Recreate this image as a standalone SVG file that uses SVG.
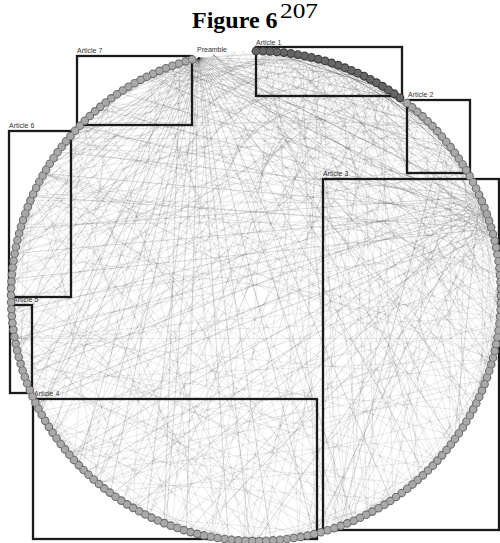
<svg xmlns="http://www.w3.org/2000/svg" width="500" height="543" viewBox="0 0 500 543">
<style>
.title{font-family:"Liberation Serif","Times New Roman",serif;font-weight:bold;font-size:24px;fill:#000}
.sup{font-family:"Liberation Serif","Times New Roman",serif;font-size:21px;fill:#000}
.lbl{font-family:"Liberation Sans",Arial,sans-serif;font-size:7px;fill:#333}
.box{fill:none;stroke:#1a1a1a;stroke-width:2.3}
.e1{stroke:#000;stroke-opacity:.12;stroke-width:.65}
.e2{stroke:#000;stroke-opacity:.2;stroke-width:.7}
.e3{stroke:#000;stroke-opacity:.35;stroke-width:.8}
.dots{fill:none;stroke-linecap:round}
</style>
<defs>
<line id="c10" x1="-21.35" y1="-244.07" x2="21.35" y2="-244.07"/>
<line id="c15" x1="-31.98" y1="-242.9" x2="31.98" y2="-242.9"/>
<line id="c20" x1="-42.54" y1="-241.28" x2="42.54" y2="-241.28"/>
<line id="c25" x1="-53.03" y1="-239.19" x2="53.03" y2="-239.19"/>
<line id="c30" x1="-63.41" y1="-236.65" x2="63.41" y2="-236.65"/>
<line id="c35" x1="-73.67" y1="-233.66" x2="73.67" y2="-233.66"/>
<line id="c40" x1="-83.79" y1="-230.22" x2="83.79" y2="-230.22"/>
<line id="c45" x1="-93.76" y1="-226.35" x2="93.76" y2="-226.35"/>
<line id="c50" x1="-103.54" y1="-222.05" x2="103.54" y2="-222.05"/>
<line id="c55" x1="-113.13" y1="-217.32" x2="113.13" y2="-217.32"/>
<line id="c60" x1="-122.5" y1="-212.18" x2="122.5" y2="-212.18"/>
<line id="c65" x1="-131.64" y1="-206.63" x2="131.64" y2="-206.63"/>
<line id="c70" x1="-140.53" y1="-200.69" x2="140.53" y2="-200.69"/>
<line id="c75" x1="-149.15" y1="-194.37" x2="149.15" y2="-194.37"/>
<line id="c80" x1="-157.48" y1="-187.68" x2="157.48" y2="-187.68"/>
<line id="c85" x1="-165.52" y1="-180.63" x2="165.52" y2="-180.63"/>
<line id="c90" x1="-173.24" y1="-173.24" x2="173.24" y2="-173.24"/>
<line id="c95" x1="-180.63" y1="-165.52" x2="180.63" y2="-165.52"/>
<line id="c100" x1="-187.68" y1="-157.48" x2="187.68" y2="-157.48"/>
<line id="c105" x1="-194.37" y1="-149.15" x2="194.37" y2="-149.15"/>
<line id="c110" x1="-200.69" y1="-140.53" x2="200.69" y2="-140.53"/>
<line id="c115" x1="-206.63" y1="-131.64" x2="206.63" y2="-131.64"/>
<line id="c120" x1="-212.18" y1="-122.5" x2="212.18" y2="-122.5"/>
<line id="c125" x1="-217.32" y1="-113.13" x2="217.32" y2="-113.13"/>
<line id="c130" x1="-222.05" y1="-103.54" x2="222.05" y2="-103.54"/>
<line id="c135" x1="-226.35" y1="-93.76" x2="226.35" y2="-93.76"/>
<line id="c140" x1="-230.22" y1="-83.79" x2="230.22" y2="-83.79"/>
<line id="c145" x1="-233.66" y1="-73.67" x2="233.66" y2="-73.67"/>
<line id="c150" x1="-236.65" y1="-63.41" x2="236.65" y2="-63.41"/>
<line id="c155" x1="-239.19" y1="-53.03" x2="239.19" y2="-53.03"/>
<line id="c160" x1="-241.28" y1="-42.54" x2="241.28" y2="-42.54"/>
<line id="c165" x1="-242.9" y1="-31.98" x2="242.9" y2="-31.98"/>
<line id="c170" x1="-244.07" y1="-21.35" x2="244.07" y2="-21.35"/>
<line id="c175" x1="-244.77" y1="-10.69" x2="244.77" y2="-10.69"/>
<line id="c180" x1="-245" y1="0" x2="245" y2="0"/>
</defs>
<rect width="500" height="543" fill="#fff"/>
<g id="title">
<text class="title" x="192" y="28">Figure 6</text>
<text class="sup" x="280" y="18" textLength="38" lengthAdjust="spacingAndGlyphs">207</text>
</g>
<g id="connectors" transform="translate(256,296)">
<g class="e2">
<use href="#c20" transform="rotate(356.5)"/><use href="#c20" transform="rotate(336.5)"/>
<use href="#c30" transform="rotate(1.5)"/>
<use href="#c40" transform="rotate(6.5)"/><use href="#c40" transform="rotate(326.5)"/>
<use href="#c50" transform="rotate(11.5)"/><use href="#c50" transform="rotate(321.5)"/>
<use href="#c60" transform="rotate(16.5)"/><use href="#c60" transform="rotate(316.5)"/>
<use href="#c70" transform="rotate(21.5)"/><use href="#c70" transform="rotate(311.5)"/>
<use href="#c80" transform="rotate(26.5)"/><use href="#c80" transform="rotate(306.5)"/>
<use href="#c90" transform="rotate(31.5)"/><use href="#c90" transform="rotate(301.5)"/>
<use href="#c100" transform="rotate(36.5)"/><use href="#c100" transform="rotate(296.5)"/>
<use href="#c110" transform="rotate(41.5)"/><use href="#c110" transform="rotate(291.5)"/>
<use href="#c120" transform="rotate(46.5)"/><use href="#c120" transform="rotate(286.5)"/>
<use href="#c130" transform="rotate(51.5)"/><use href="#c130" transform="rotate(281.5)"/>
<use href="#c140" transform="rotate(56.5)"/><use href="#c140" transform="rotate(276.5)"/>
<use href="#c150" transform="rotate(61.5)"/><use href="#c150" transform="rotate(271.5)"/>
<use href="#c160" transform="rotate(66.5)"/><use href="#c160" transform="rotate(266.5)"/>
<use href="#c170" transform="rotate(71.5)"/><use href="#c170" transform="rotate(261.5)"/>
<use href="#c180" transform="rotate(76.5)"/>
<use href="#c25" transform="rotate(334)"/><use href="#c45" transform="rotate(324)"/><use href="#c65" transform="rotate(314)"/><use href="#c85" transform="rotate(304)"/><use href="#c105" transform="rotate(294)"/><use href="#c125" transform="rotate(284)"/><use href="#c145" transform="rotate(274)"/><use href="#c165" transform="rotate(264)"/>
<use href="#c60" transform="rotate(312)"/><use href="#c100" transform="rotate(292)"/><use href="#c140" transform="rotate(272)"/><use href="#c90" transform="rotate(27)"/><use href="#c130" transform="rotate(47)"/>
<use href="#c50" transform="rotate(41)"/><use href="#c80" transform="rotate(26)"/><use href="#c100" transform="rotate(16)"/><use href="#c120" transform="rotate(6)"/><use href="#c140" transform="rotate(356)"/><use href="#c160" transform="rotate(346)"/><use href="#c175" transform="rotate(338.5)"/><use href="#c60" transform="rotate(96)"/><use href="#c100" transform="rotate(116)"/><use href="#c130" transform="rotate(131)"/><use href="#c150" transform="rotate(141)"/>
<use href="#c90" transform="rotate(25)"/><use href="#c110" transform="rotate(15)"/><use href="#c130" transform="rotate(5)"/><use href="#c150" transform="rotate(355)"/><use href="#c170" transform="rotate(345)"/><use href="#c110" transform="rotate(125)"/><use href="#c140" transform="rotate(140)"/><use href="#c160" transform="rotate(150)"/><use href="#c175" transform="rotate(157.5)"/>
<use href="#c70" transform="rotate(39)"/><use href="#c100" transform="rotate(24)"/><use href="#c120" transform="rotate(14)"/><use href="#c140" transform="rotate(4)"/><use href="#c160" transform="rotate(354)"/><use href="#c120" transform="rotate(134)"/><use href="#c150" transform="rotate(149)"/><use href="#c170" transform="rotate(159)"/>
</g>
<g class="e1">
<use href="#c40" transform="rotate(23)"/><use href="#c70" transform="rotate(38)"/><use href="#c100" transform="rotate(53)"/><use href="#c130" transform="rotate(68)"/><use href="#c160" transform="rotate(83)"/><use href="#c60" transform="rotate(333)"/><use href="#c90" transform="rotate(318)"/><use href="#c120" transform="rotate(303)"/><use href="#c150" transform="rotate(288)"/><use href="#c180" transform="rotate(273)"/>
<use href="#c30" transform="rotate(23)"/><use href="#c60" transform="rotate(38)"/><use href="#c90" transform="rotate(53)"/><use href="#c120" transform="rotate(68)"/><use href="#c150" transform="rotate(83)"/><use href="#c50" transform="rotate(343)"/><use href="#c80" transform="rotate(328)"/><use href="#c110" transform="rotate(313)"/><use href="#c140" transform="rotate(298)"/><use href="#c170" transform="rotate(283)"/>
<use href="#c20" transform="rotate(23)"/><use href="#c50" transform="rotate(38)"/><use href="#c80" transform="rotate(53)"/><use href="#c110" transform="rotate(68)"/><use href="#c140" transform="rotate(83)"/><use href="#c170" transform="rotate(98)"/><use href="#c40" transform="rotate(353)"/><use href="#c70" transform="rotate(338)"/><use href="#c100" transform="rotate(323)"/><use href="#c130" transform="rotate(308)"/><use href="#c160" transform="rotate(293)"/>
<use href="#c30" transform="rotate(33)"/><use href="#c60" transform="rotate(48)"/><use href="#c90" transform="rotate(63)"/><use href="#c120" transform="rotate(78)"/><use href="#c160" transform="rotate(98)"/><use href="#c60" transform="rotate(348)"/><use href="#c90" transform="rotate(333)"/><use href="#c120" transform="rotate(318)"/><use href="#c150" transform="rotate(303)"/><use href="#c175" transform="rotate(290.5)"/>
<use href="#c20" transform="rotate(33)"/><use href="#c70" transform="rotate(58)"/><use href="#c100" transform="rotate(73)"/><use href="#c130" transform="rotate(88)"/><use href="#c50" transform="rotate(358)"/><use href="#c80" transform="rotate(343)"/><use href="#c110" transform="rotate(328)"/><use href="#c140" transform="rotate(313)"/><use href="#c170" transform="rotate(298)"/>
<use href="#c10" transform="rotate(33)"/><use href="#c40" transform="rotate(48)"/><use href="#c80" transform="rotate(68)"/><use href="#c110" transform="rotate(83)"/><use href="#c140" transform="rotate(98)"/><use href="#c70" transform="rotate(353)"/><use href="#c100" transform="rotate(338)"/><use href="#c130" transform="rotate(323)"/><use href="#c160" transform="rotate(308)"/>
<use href="#c30" transform="rotate(48)"/><use href="#c60" transform="rotate(63)"/><use href="#c90" transform="rotate(78)"/><use href="#c120" transform="rotate(93)"/><use href="#c150" transform="rotate(108)"/><use href="#c80" transform="rotate(353)"/><use href="#c110" transform="rotate(338)"/><use href="#c140" transform="rotate(323)"/><use href="#c170" transform="rotate(308)"/>
<use href="#c60" transform="rotate(12)"/><use href="#c90" transform="rotate(357)"/><use href="#c120" transform="rotate(342)"/><use href="#c150" transform="rotate(327)"/><use href="#c175" transform="rotate(314.5)"/><use href="#c40" transform="rotate(62)"/><use href="#c80" transform="rotate(82)"/><use href="#c120" transform="rotate(102)"/>
<use href="#c70" transform="rotate(15)"/><use href="#c100" transform="rotate(0)"/><use href="#c130" transform="rotate(345)"/><use href="#c160" transform="rotate(330)"/><use href="#c30" transform="rotate(65)"/><use href="#c70" transform="rotate(85)"/><use href="#c110" transform="rotate(105)"/>
<use href="#c80" transform="rotate(17)"/><use href="#c110" transform="rotate(2)"/><use href="#c140" transform="rotate(347)"/><use href="#c170" transform="rotate(332)"/><use href="#c50" transform="rotate(82)"/><use href="#c100" transform="rotate(107)"/>
<use href="#c90" transform="rotate(35)"/><use href="#c130" transform="rotate(15)"/><use href="#c170" transform="rotate(355)"/><use href="#c100" transform="rotate(130)"/><use href="#c140" transform="rotate(150)"/><use href="#c175" transform="rotate(167.5)"/>
<use href="#c100" transform="rotate(40)"/><use href="#c150" transform="rotate(15)"/><use href="#c100" transform="rotate(140)"/><use href="#c140" transform="rotate(160)"/><use href="#c170" transform="rotate(175)"/>
<use href="#c110" transform="rotate(45)"/><use href="#c160" transform="rotate(20)"/><use href="#c130" transform="rotate(165)"/><use href="#c160" transform="rotate(180)"/>
<use href="#c120" transform="rotate(50)"/><use href="#c170" transform="rotate(25)"/><use href="#c120" transform="rotate(170)"/><use href="#c150" transform="rotate(185)"/>
<use href="#c130" transform="rotate(60)"/><use href="#c100" transform="rotate(175)"/><use href="#c140" transform="rotate(195)"/><use href="#c170" transform="rotate(210)"/>
<use href="#c140" transform="rotate(70)"/><use href="#c90" transform="rotate(185)"/><use href="#c130" transform="rotate(205)"/><use href="#c160" transform="rotate(220)"/>
<use href="#c90" transform="rotate(115)"/><use href="#c110" transform="rotate(105)"/><use href="#c130" transform="rotate(95)"/><use href="#c150" transform="rotate(85)"/><use href="#c170" transform="rotate(75)"/><use href="#c80" transform="rotate(200)"/><use href="#c120" transform="rotate(220)"/><use href="#c150" transform="rotate(235)"/><use href="#c180" transform="rotate(250)"/>
<use href="#c60" transform="rotate(120)"/><use href="#c80" transform="rotate(110)"/><use href="#c100" transform="rotate(200)"/><use href="#c140" transform="rotate(220)"/>
<use href="#c60" transform="rotate(210)"/><use href="#c100" transform="rotate(230)"/><use href="#c130" transform="rotate(245)"/><use href="#c160" transform="rotate(260)"/><use href="#c140" transform="rotate(110)"/>
<use href="#c70" transform="rotate(235)"/><use href="#c110" transform="rotate(255)"/><use href="#c150" transform="rotate(275)"/><use href="#c120" transform="rotate(140)"/><use href="#c150" transform="rotate(125)"/><use href="#c170" transform="rotate(115)"/>
<use href="#c80" transform="rotate(260)"/><use href="#c130" transform="rotate(285)"/><use href="#c110" transform="rotate(165)"/><use href="#c120" transform="rotate(160)"/><use href="#c170" transform="rotate(135)"/>
<use href="#c90" transform="rotate(280)"/><use href="#c120" transform="rotate(295)"/><use href="#c130" transform="rotate(170)"/><use href="#c160" transform="rotate(155)"/><use href="#c175" transform="rotate(147.5)"/>
<use href="#c60" transform="rotate(285)"/><use href="#c100" transform="rotate(305)"/><use href="#c130" transform="rotate(320)"/><use href="#c160" transform="rotate(335)"/><use href="#c90" transform="rotate(210)"/><use href="#c120" transform="rotate(195)"/>
<use href="#c50" transform="rotate(300)"/><use href="#c90" transform="rotate(320)"/><use href="#c120" transform="rotate(335)"/><use href="#c150" transform="rotate(350)"/><use href="#c175" transform="rotate(7.5)"/><use href="#c100" transform="rotate(225)"/>
<use href="#c60" transform="rotate(325)"/><use href="#c100" transform="rotate(345)"/><use href="#c140" transform="rotate(5)"/><use href="#c170" transform="rotate(20)"/><use href="#c110" transform="rotate(240)"/><use href="#c140" transform="rotate(225)"/>
<use href="#c50" transform="rotate(340)"/><use href="#c90" transform="rotate(0)"/><use href="#c130" transform="rotate(20)"/><use href="#c160" transform="rotate(35)"/><use href="#c120" transform="rotate(255)"/><use href="#c150" transform="rotate(240)"/>
<use href="#c40" transform="rotate(355)"/><use href="#c80" transform="rotate(15)"/><use href="#c120" transform="rotate(35)"/><use href="#c150" transform="rotate(50)"/><use href="#c110" transform="rotate(280)"/><use href="#c140" transform="rotate(265)"/><use href="#c170" transform="rotate(250)"/>
<use href="#c20" transform="rotate(70)"/><use href="#c20" transform="rotate(90)"/><use href="#c20" transform="rotate(110)"/><use href="#c20" transform="rotate(130)"/><use href="#c20" transform="rotate(150)"/><use href="#c20" transform="rotate(170)"/><use href="#c20" transform="rotate(190)"/><use href="#c20" transform="rotate(210)"/><use href="#c20" transform="rotate(230)"/><use href="#c20" transform="rotate(250)"/><use href="#c20" transform="rotate(270)"/><use href="#c20" transform="rotate(290)"/><use href="#c20" transform="rotate(310)"/><use href="#c20" transform="rotate(330)"/>
<use href="#c30" transform="rotate(80)"/><use href="#c30" transform="rotate(100)"/><use href="#c30" transform="rotate(120)"/><use href="#c30" transform="rotate(140)"/><use href="#c30" transform="rotate(160)"/><use href="#c30" transform="rotate(200)"/><use href="#c30" transform="rotate(240)"/><use href="#c30" transform="rotate(280)"/><use href="#c30" transform="rotate(320)"/>
<use href="#c40" transform="rotate(75)"/><use href="#c40" transform="rotate(95)"/><use href="#c40" transform="rotate(115)"/><use href="#c40" transform="rotate(135)"/><use href="#c40" transform="rotate(155)"/><use href="#c40" transform="rotate(185)"/><use href="#c40" transform="rotate(215)"/><use href="#c40" transform="rotate(245)"/><use href="#c40" transform="rotate(275)"/><use href="#c40" transform="rotate(305)"/>
</g>
<g class="e1">
<use href="#c45" transform="rotate(27.5)"/><use href="#c75" transform="rotate(42.5)"/><use href="#c105" transform="rotate(57.5)"/><use href="#c135" transform="rotate(72.5)"/><use href="#c165" transform="rotate(87.5)"/><use href="#c55" transform="rotate(337.5)"/><use href="#c85" transform="rotate(322.5)"/><use href="#c115" transform="rotate(307.5)"/><use href="#c145" transform="rotate(292.5)"/><use href="#c175" transform="rotate(277.5)"/>
<use href="#c35" transform="rotate(28.5)"/><use href="#c65" transform="rotate(43.5)"/><use href="#c95" transform="rotate(58.5)"/><use href="#c125" transform="rotate(73.5)"/><use href="#c155" transform="rotate(88.5)"/><use href="#c45" transform="rotate(348.5)"/><use href="#c75" transform="rotate(333.5)"/><use href="#c105" transform="rotate(318.5)"/><use href="#c135" transform="rotate(303.5)"/><use href="#c165" transform="rotate(288.5)"/>
<use href="#c25" transform="rotate(28.5)"/><use href="#c55" transform="rotate(43.5)"/><use href="#c85" transform="rotate(58.5)"/><use href="#c115" transform="rotate(73.5)"/><use href="#c145" transform="rotate(88.5)"/><use href="#c175" transform="rotate(103.5)"/><use href="#c65" transform="rotate(343.5)"/><use href="#c95" transform="rotate(328.5)"/><use href="#c125" transform="rotate(313.5)"/><use href="#c155" transform="rotate(298.5)"/>
<use href="#c15" transform="rotate(28.5)"/><use href="#c45" transform="rotate(43.5)"/><use href="#c75" transform="rotate(58.5)"/><use href="#c105" transform="rotate(73.5)"/><use href="#c135" transform="rotate(88.5)"/><use href="#c35" transform="rotate(3.5)"/><use href="#c85" transform="rotate(338.5)"/><use href="#c115" transform="rotate(323.5)"/><use href="#c145" transform="rotate(308.5)"/><use href="#c175" transform="rotate(293.5)"/>
<use href="#c35" transform="rotate(43.5)"/><use href="#c65" transform="rotate(58.5)"/><use href="#c95" transform="rotate(73.5)"/><use href="#c125" transform="rotate(88.5)"/><use href="#c155" transform="rotate(103.5)"/><use href="#c55" transform="rotate(358.5)"/><use href="#c105" transform="rotate(333.5)"/><use href="#c135" transform="rotate(318.5)"/><use href="#c165" transform="rotate(303.5)"/>
<use href="#c25" transform="rotate(43.5)"/><use href="#c55" transform="rotate(58.5)"/><use href="#c85" transform="rotate(73.5)"/><use href="#c115" transform="rotate(88.5)"/><use href="#c145" transform="rotate(103.5)"/><use href="#c175" transform="rotate(118.5)"/><use href="#c75" transform="rotate(353.5)"/><use href="#c125" transform="rotate(328.5)"/><use href="#c155" transform="rotate(313.5)"/>
<use href="#c65" transform="rotate(35.5)"/><use href="#c95" transform="rotate(20.5)"/><use href="#c115" transform="rotate(10.5)"/><use href="#c135" transform="rotate(0.5)"/><use href="#c155" transform="rotate(350.5)"/><use href="#c175" transform="rotate(340.5)"/><use href="#c45" transform="rotate(90.5)"/><use href="#c85" transform="rotate(110.5)"/><use href="#c125" transform="rotate(130.5)"/><use href="#c165" transform="rotate(150.5)"/>
<use href="#c75" transform="rotate(34.5)"/><use href="#c105" transform="rotate(19.5)"/><use href="#c125" transform="rotate(9.5)"/><use href="#c145" transform="rotate(359.5)"/><use href="#c165" transform="rotate(349.5)"/><use href="#c95" transform="rotate(119.5)"/><use href="#c135" transform="rotate(139.5)"/><use href="#c175" transform="rotate(159.5)"/>
<use href="#c85" transform="rotate(34.5)"/><use href="#c115" transform="rotate(19.5)"/><use href="#c145" transform="rotate(4.5)"/><use href="#c175" transform="rotate(349.5)"/><use href="#c105" transform="rotate(129.5)"/><use href="#c145" transform="rotate(149.5)"/>
<use href="#c95" transform="rotate(37.5)"/><use href="#c135" transform="rotate(17.5)"/><use href="#c115" transform="rotate(142.5)"/><use href="#c155" transform="rotate(162.5)"/><use href="#c35" transform="rotate(102.5)"/>
<use href="#c105" transform="rotate(42.5)"/><use href="#c155" transform="rotate(17.5)"/><use href="#c125" transform="rotate(157.5)"/><use href="#c165" transform="rotate(177.5)"/><use href="#c25" transform="rotate(107.5)"/>
<use href="#c115" transform="rotate(47.5)"/><use href="#c165" transform="rotate(22.5)"/><use href="#c105" transform="rotate(157.5)"/><use href="#c145" transform="rotate(177.5)"/>
<use href="#c125" transform="rotate(55.5)"/><use href="#c175" transform="rotate(30.5)"/><use href="#c95" transform="rotate(165.5)"/><use href="#c135" transform="rotate(185.5)"/>
<use href="#c135" transform="rotate(64.5)"/><use href="#c85" transform="rotate(174.5)"/><use href="#c125" transform="rotate(194.5)"/><use href="#c165" transform="rotate(214.5)"/>
<use href="#c145" transform="rotate(73.5)"/><use href="#c95" transform="rotate(98.5)"/><use href="#c75" transform="rotate(183.5)"/><use href="#c115" transform="rotate(203.5)"/><use href="#c155" transform="rotate(223.5)"/>
<use href="#c85" transform="rotate(115.5)"/><use href="#c105" transform="rotate(105.5)"/><use href="#c125" transform="rotate(95.5)"/><use href="#c145" transform="rotate(85.5)"/><use href="#c165" transform="rotate(75.5)"/><use href="#c95" transform="rotate(205.5)"/><use href="#c135" transform="rotate(225.5)"/><use href="#c175" transform="rotate(245.5)"/>
<use href="#c65" transform="rotate(12.5)"/><use href="#c95" transform="rotate(357.5)"/><use href="#c125" transform="rotate(342.5)"/><use href="#c155" transform="rotate(327.5)"/><use href="#c55" transform="rotate(72.5)"/><use href="#c95" transform="rotate(92.5)"/>
<use href="#c75" transform="rotate(15.5)"/><use href="#c105" transform="rotate(0.5)"/><use href="#c145" transform="rotate(340.5)"/><use href="#c35" transform="rotate(70.5)"/><use href="#c75" transform="rotate(90.5)"/><use href="#c115" transform="rotate(110.5)"/>
<use href="#c85" transform="rotate(16.5)"/><use href="#c125" transform="rotate(356.5)"/><use href="#c165" transform="rotate(336.5)"/><use href="#c65" transform="rotate(91.5)"/><use href="#c105" transform="rotate(111.5)"/>
<use href="#c65" transform="rotate(202.5)"/><use href="#c105" transform="rotate(222.5)"/><use href="#c145" transform="rotate(242.5)"/><use href="#c115" transform="rotate(112.5)"/><use href="#c155" transform="rotate(92.5)"/>
<use href="#c75" transform="rotate(227.5)"/><use href="#c115" transform="rotate(247.5)"/><use href="#c155" transform="rotate(267.5)"/><use href="#c125" transform="rotate(127.5)"/><use href="#c165" transform="rotate(107.5)"/>
<use href="#c85" transform="rotate(252.5)"/><use href="#c125" transform="rotate(272.5)"/><use href="#c165" transform="rotate(292.5)"/><use href="#c135" transform="rotate(142.5)"/><use href="#c175" transform="rotate(122.5)"/>
<use href="#c95" transform="rotate(275.5)"/><use href="#c135" transform="rotate(295.5)"/><use href="#c115" transform="rotate(170.5)"/><use href="#c155" transform="rotate(150.5)"/>
<use href="#c75" transform="rotate(279.5)"/><use href="#c115" transform="rotate(299.5)"/><use href="#c155" transform="rotate(319.5)"/><use href="#c145" transform="rotate(169.5)"/>
<use href="#c65" transform="rotate(290.5)"/><use href="#c105" transform="rotate(310.5)"/><use href="#c145" transform="rotate(330.5)"/><use href="#c95" transform="rotate(210.5)"/>
<use href="#c85" transform="rotate(307.5)"/><use href="#c125" transform="rotate(327.5)"/><use href="#c165" transform="rotate(347.5)"/><use href="#c115" transform="rotate(207.5)"/>
<use href="#c55" transform="rotate(312.5)"/><use href="#c95" transform="rotate(332.5)"/><use href="#c135" transform="rotate(352.5)"/><use href="#c175" transform="rotate(12.5)"/><use href="#c105" transform="rotate(232.5)"/>
<use href="#c65" transform="rotate(332.5)"/><use href="#c105" transform="rotate(352.5)"/><use href="#c145" transform="rotate(12.5)"/><use href="#c125" transform="rotate(237.5)"/>
<use href="#c45" transform="rotate(344.5)"/><use href="#c85" transform="rotate(4.5)"/><use href="#c125" transform="rotate(24.5)"/><use href="#c165" transform="rotate(44.5)"/><use href="#c135" transform="rotate(254.5)"/>
<use href="#c35" transform="rotate(355.5)"/><use href="#c75" transform="rotate(15.5)"/><use href="#c115" transform="rotate(35.5)"/><use href="#c155" transform="rotate(55.5)"/><use href="#c115" transform="rotate(280.5)"/><use href="#c155" transform="rotate(260.5)"/>
<use href="#c15" transform="rotate(57)"/><use href="#c15" transform="rotate(83)"/><use href="#c15" transform="rotate(121)"/><use href="#c15" transform="rotate(176)"/><use href="#c15" transform="rotate(214)"/><use href="#c15" transform="rotate(262)"/><use href="#c15" transform="rotate(297)"/><use href="#c15" transform="rotate(331)"/>
<use href="#c25" transform="rotate(66)"/><use href="#c25" transform="rotate(104)"/><use href="#c25" transform="rotate(147)"/><use href="#c25" transform="rotate(193)"/><use href="#c25" transform="rotate(238)"/><use href="#c25" transform="rotate(283)"/><use href="#c25" transform="rotate(318)"/>
<use href="#c35" transform="rotate(88)"/><use href="#c35" transform="rotate(126)"/><use href="#c35" transform="rotate(167)"/><use href="#c35" transform="rotate(222)"/><use href="#c35" transform="rotate(271)"/><use href="#c35" transform="rotate(309)"/>
</g>
<g class="e3">
<use href="#c10" transform="rotate(4)"/><use href="#c10" transform="rotate(9)"/><use href="#c10" transform="rotate(14)"/><use href="#c10" transform="rotate(19)"/><use href="#c10" transform="rotate(24)"/><use href="#c10" transform="rotate(29)"/><use href="#c10" transform="rotate(34)"/><use href="#c10" transform="rotate(39)"/><use href="#c10" transform="rotate(44)"/><use href="#c10" transform="rotate(49)"/>
<use href="#c20" transform="rotate(12)"/><use href="#c20" transform="rotate(20)"/><use href="#c20" transform="rotate(28)"/><use href="#c20" transform="rotate(36)"/><use href="#c20" transform="rotate(44)"/>
<use href="#c30" transform="rotate(18)"/><use href="#c30" transform="rotate(30)"/><use href="#c30" transform="rotate(42)"/>
</g>
</g>
<g id="preamble"><text class="lbl" x="197" y="52">Preamble</text></g>
<g id="article-1"><rect class="box" x="256" y="47" width="146" height="49"/><text class="lbl" x="256" y="45">Article 1</text></g>
<g id="article-2"><rect class="box" x="407" y="100" width="63" height="73"/><text class="lbl" x="408" y="97">Article 2</text></g>
<g id="article-3"><rect class="box" x="323" y="179" width="176" height="351"/><text class="lbl" x="323" y="176">Article 3</text></g>
<g id="article-4"><rect class="box" x="33" y="399" width="284" height="140"/><text class="lbl" x="34" y="396">Article 4</text></g>
<g id="article-5"><rect class="box" x="10" y="305" width="22" height="88"/><text class="lbl" x="13" y="302">Article 5</text></g>
<g id="article-6"><rect class="box" x="9" y="131" width="62" height="166"/><text class="lbl" x="9" y="128">Article 6</text></g>
<g id="article-7"><rect class="box" x="77" y="56" width="115" height="69"/><text class="lbl" x="77" y="53">Article 7</text></g>
<g id="ring">
<path class="dots" d="M406.84,102.94 A245,245 0 1 1 198.8,57.77" pathLength="190" stroke="#6e6e6e" stroke-width="8.6" stroke-dasharray="0 1"/>
<path class="dots" d="M406.84,102.94 A245,245 0 1 1 198.8,57.77" pathLength="190" stroke="#a9a9a9" stroke-width="6.4" stroke-dasharray="0 1"/>
<path class="dots" d="M256,51 A245,245 0 0 1 400.01,97.79" pathLength="22" stroke="#3a3a3a" stroke-width="8.8" stroke-dasharray="0 1"/>
<path class="dots" d="M256,51 A245,245 0 0 1 400.01,97.79" pathLength="22" stroke="#666" stroke-width="6.6" stroke-dasharray="0 1"/>
</g>
</svg>
